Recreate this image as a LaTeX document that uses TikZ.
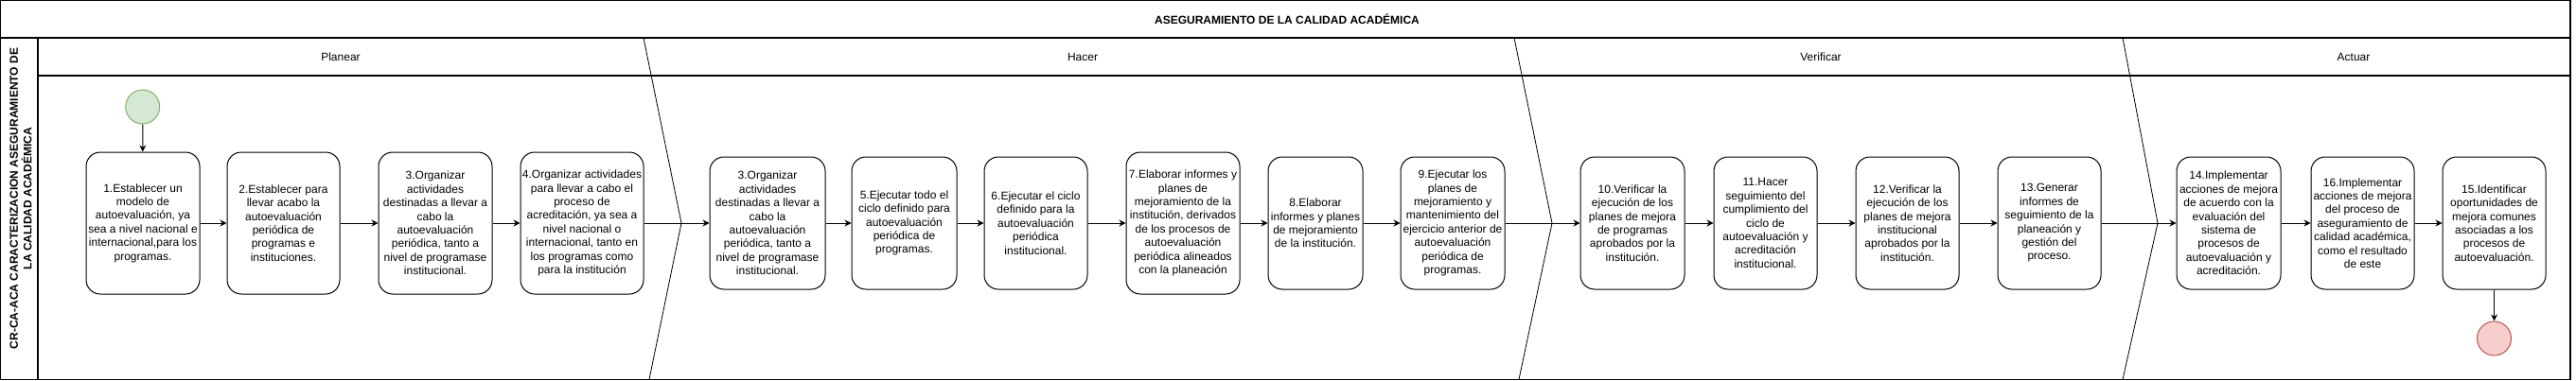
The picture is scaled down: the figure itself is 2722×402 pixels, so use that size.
\documentclass[tikz,border=0pt]{standalone}
\usepackage{fontspec}
\setmainfont{Liberation Sans}
\usetikzlibrary{arrows.meta}
\definecolor{startfill}{HTML}{D5E8D4}
\definecolor{startline}{HTML}{82B366}
\definecolor{endfill}{HTML}{F8CECC}
\definecolor{endline}{HTML}{B85450}
\begin{document}
\begin{tikzpicture}[x=1pt,y=-1pt,
  every node/.style={font=\fontsize{12}{14.4}\selectfont},
  stepbox/.style={draw, rounded corners=15pt, align=center, inner sep=0pt, line width=1pt, fill=white},
  tall/.style={minimum height=150pt},
  short/.style={minimum height=140pt},
  arr/.style={-{Stealth[length=7pt,width=7pt]}, line width=1pt},
  lane/.style={line width=1.1pt},
  phase/.style={line width=0.8pt},
  startev/.style={circle, draw=startline, fill=startfill, minimum size=36pt, inner sep=0pt, line width=1pt},
  endev/.style={circle, draw=endline, fill=endfill, minimum size=36pt, inner sep=0pt, line width=1pt},
  hdr/.style={font=\fontsize{12}{14.4}\selectfont},
  boldtxt/.style={font=\fontsize{12}{14.4}\selectfont\bfseries},
]
\useasboundingbox (0,0) rectangle (2722,402);
% frame and lanes
\draw[lane] (0.7,0.7) rectangle (2716,401.3);
\draw[lane] (0.7,40) -- (2716,40);
\draw[lane] (40,40) -- (40,401.3);
\draw[lane] (40,80) -- (2716,80);
% phase separators
\draw[phase] (680,40) -- (720,236) -- (686,401.3);
\draw[phase] (1600,40) -- (1640,236) -- (1605,401.3);
\draw[phase] (2243,40) -- (2280,236) -- (2243,401.3);
% titles
\node[boldtxt] (title) at (1360,20) {ASEGURAMIENTO DE LA CALIDAD ACADÉMICA};
\node[boldtxt, rotate=90, align=center, inner sep=0pt] (pool) at (22,210) {CR-CA-ACA CARACTERIZACION ASEGURAMIENTO DE\\LA CALIDAD ACADÉMICA};
\node[hdr] (hp) at (360,60) {Planear};
\node[hdr] (hh) at (1144,60) {Hacer};
\node[hdr] (hv) at (1924,60) {Verificar};
\node[hdr] (ha) at (2487,60) {Actuar};
% events
\node[startev] (s) at (150.7,113) {};
\node[endev] (e) at (2635.5,358) {};
% steps
\node[stepbox, tall, minimum width=120pt] (b1) at (151,236) {1.Establecer un\\modelo de\\autoevaluación, ya\\sea a nivel nacional e\\internacional,para los\\programas.};
\node[stepbox, tall, minimum width=119pt] (b2) at (299.5,236) {2.Establecer para\\llevar acabo la\\autoevaluación\\periódica de\\programas e\\instituciones.};
\node[stepbox, tall, minimum width=120pt] (b3) at (460,236) {3.Organizar\\actividades\\destinadas a llevar a\\cabo la\\autoevaluación\\periódica, tanto a\\nivel de programase\\institucional.};
\node[stepbox, tall, minimum width=130pt] (b4) at (615,236) {4.Organizar actividades\\para llevar a cabo el\\proceso de\\acreditación, ya sea a\\nivel nacional o\\internacional, tanto en\\los programas como\\para la institución};
\node[stepbox, short, minimum width=122pt] (h3) at (811,236) {3.Organizar\\actividades\\destinadas a llevar a\\cabo la\\autoevaluación\\periódica, tanto a\\nivel de programase\\institucional.};
\node[stepbox, short, minimum width=111pt] (b5) at (955.5,236) {5.Ejecutar todo el\\ciclo definido para\\autoevaluación\\periódica de\\programas.};
\node[stepbox, short, minimum width=109pt] (b6) at (1094.5,236) {6.Ejecutar el ciclo\\definido para la\\autoevaluación\\periódica\\institucional.};
\node[stepbox, tall, minimum width=120pt] (b7) at (1250,236) {7.Elaborar informes y\\planes de\\mejoramiento de la\\institución, derivados\\de los procesos de\\autoevaluación\\periódica alineados\\con la planeación};
\node[stepbox, short, minimum width=100pt] (b8) at (1390,236) {8.Elaborar\\informes y planes\\de mejoramiento\\de la institución.};
\node[stepbox, short, minimum width=110pt] (b9) at (1535,236) {9.Ejecutar los\\planes de\\mejoramiento y\\mantenimiento del\\ejercicio anterior de\\autoevaluación\\periódica de\\programas.};
\node[stepbox, short, minimum width=110pt] (b10) at (1725,236) {10.Verificar la\\ejecución de los\\planes de mejora\\de programas\\aprobados por la\\institución.};
\node[stepbox, short, minimum width=109pt] (b11) at (1865.5,236) {11.Hacer\\seguimiento del\\cumplimiento del\\ciclo de\\autoevaluación y\\acreditación\\institucional.};
\node[stepbox, short, minimum width=109pt] (b12) at (2015.5,236) {12.Verificar la\\ejecución de los\\planes de mejora\\institucional\\aprobados por la\\institución.};
\node[stepbox, short, minimum width=109pt] (b13) at (2165.5,236) {13.Generar\\informes de\\seguimiento de la\\planeación y\\gestión del\\proceso.};
\node[stepbox, short, minimum width=110pt] (b14) at (2355,236) {14.Implementar\\acciones de mejora\\de acuerdo con la\\evaluación del\\sistema de\\procesos de\\autoevaluación y\\acreditación.};
\node[stepbox, short, minimum width=109pt] (b16) at (2496.5,236) {16.Implementar\\acciones de mejora\\del proceso de\\aseguramiento de\\calidad académica,\\como el resultado\\de este};
\node[stepbox, short, minimum width=109pt] (b15) at (2635.5,236) {15.Identificar\\oportunidades de\\mejora comunes\\asociadas a los\\procesos de\\autoevaluación.};
% connectors
\draw[arr] (s) -- (b1);
\draw[arr] (b1) -- (b2);
\draw[arr] (b2) -- (b3);
\draw[arr] (b3) -- (b4);
\draw[arr] (b4) -- (h3);
\draw[arr] (h3) -- (b5);
\draw[arr] (b5) -- (b6);
\draw[arr] (b6) -- (b7);
\draw[arr] (b7) -- (b8);
\draw[arr] (b8) -- (b9);
\draw[arr] (b9) -- (b10);
\draw[arr] (b10) -- (b11);
\draw[arr] (b11) -- (b12);
\draw[arr] (b12) -- (b13);
\draw[arr] (b13) -- (b14);
\draw[arr] (b14) -- (b16);
\draw[arr] (b16) -- (b15);
\draw[arr] (b15) -- (e);
\end{tikzpicture}
\end{document}
